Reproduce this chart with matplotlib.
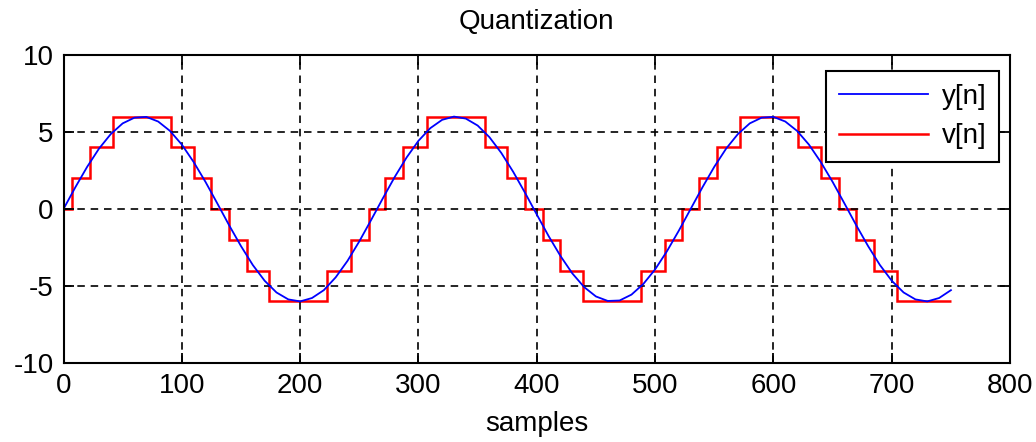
import matplotlib
matplotlib.use("Agg")
import matplotlib.pyplot as plt

plt.rcParams['font.family'] = ['Liberation Sans', 'DejaVu Sans']
plt.rcParams['axes.unicode_minus'] = False

# y[n] every 10 samples
sample_n = list(range(0, 751, 10))
y_vals = [0.00, 1.41, 2.74, 3.92, 4.87, 5.56, 5.93, 5.98, 5.68, 5.07,
          4.18, 3.05, 1.76, 0.36, -1.06, -2.41, -3.64, -4.66, -5.42, -5.87,
          -6.00, -5.78, -5.27, -4.44, -3.37, -2.10, -0.71, 0.71, 2.09, 3.35,
          4.43, 5.25, 5.79, 6.00, 5.87, 5.42, 4.66, 3.64, 2.42, 1.06,
          -0.36, -1.76, -3.05, -4.18, -5.07, -5.68, -5.97, -5.94, -5.56, -4.87,
          -3.92, -2.74, -1.41, 0.00, 1.41, 2.74, 3.92, 4.87, 5.56, 5.93,
          5.98, 5.68, 5.07, 4.18, 3.05, 1.76, 0.36, -1.06, -2.41, -3.64,
          -4.66, -5.42, -5.87, -6.00, -5.78, -5.27]

# quantized v[n]: step edges and levels
v_edges = [0, 7, 22, 42, 91, 110, 125, 140, 155, 174, 223, 243, 258, 272,
           287, 307, 356, 375, 390, 405, 420, 439, 488, 508, 523, 537, 552,
           572, 621, 640, 655, 670, 685, 704, 750]
v_levels = [0, 2, 4, 6, 4, 2, 0, -2, -4, -6, -4, -2,
            0, 2, 4, 6, 4, 2, 0, -2, -4, -6, -4, -2,
            0, 2, 4, 6, 4, 2, 0, -2, -4, -6]

x_ticks = [0, 100, 200, 300, 400, 500, 600, 700, 800]
y_ticks = [-10, -5, 0, 5, 10]

fig = plt.figure(figsize=(10.36, 4.42), dpi=100)
ax = fig.add_axes([0.0613, 0.1787, 0.9137, 0.6969])

ax.plot(sample_n, y_vals, color='blue', lw=1.3, label='y[n]')
ax.stairs(v_levels, v_edges, baseline=None, color='red', lw=1.8, label='v[n]')

ax.set_xlim(0, 800)
ax.set_ylim(-10, 10)
ax.set_xticks(x_ticks)
ax.set_yticks(y_ticks)
ax.grid(True, color='black', linestyle=(0, (4.5, 3.5)), lw=1.2)
ax.tick_params(direction='in', length=7, width=1.3, top=True, right=True,
               labelsize=20, pad=7)
for s in ax.spines.values():
    s.set_linewidth(1.5)

ax.set_title('Quantization', fontsize=20, pad=19)
ax.set_xlabel('samples', fontsize=20, labelpad=9)

leg = ax.legend(loc='upper right', bbox_to_anchor=(0.988, 0.948), fontsize=20,
                borderaxespad=0, fancybox=False, framealpha=1, edgecolor='black',
                handlelength=3.2, borderpad=0.45, labelspacing=0.5,
                handletextpad=0.5)
leg.get_frame().set_linewidth(1.5)

fig.savefig('out.png', dpi=100)
